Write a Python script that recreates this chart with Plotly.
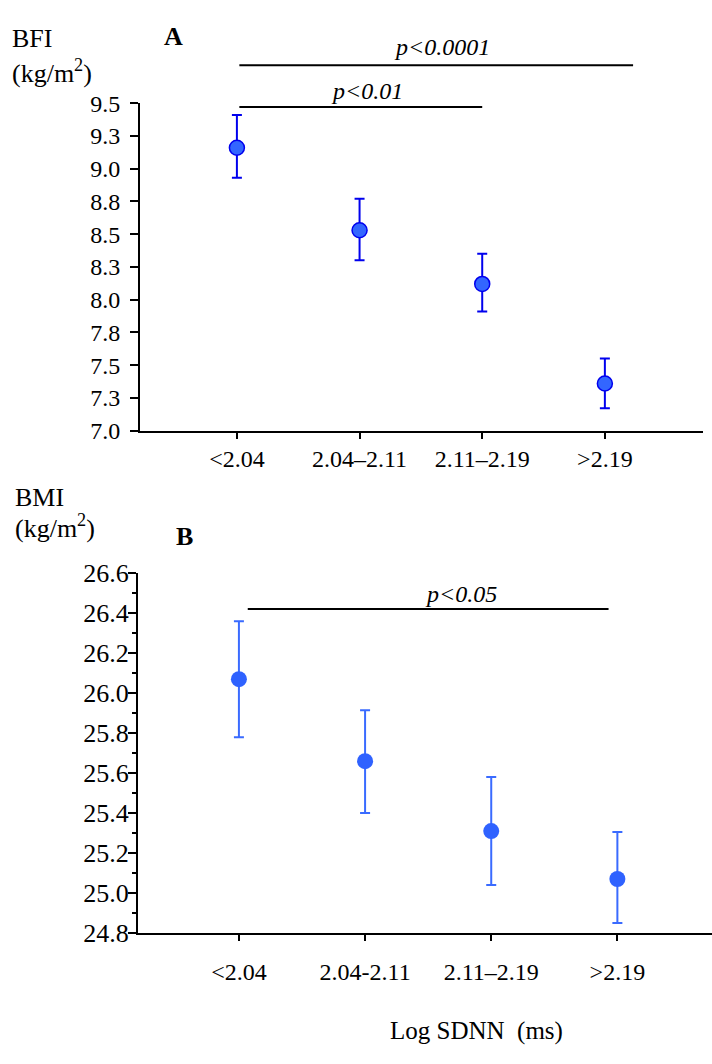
import plotly.graph_objects as go

# ---------------- data ----------------
cats_a = ["<2.04", "2.04–2.11", "2.11–2.19", ">2.19"]
bfi_mean = [9.16, 8.53, 8.12, 7.36]
bfi_upper = [9.41, 8.77, 8.35, 7.55]
bfi_lower = [8.93, 8.30, 7.91, 7.17]
bfi_ticks = [7.0, 7.25, 7.5, 7.75, 8.0, 8.25, 8.5, 8.75, 9.0, 9.25, 9.5]
bfi_ticktext = ["7.0", "7.3", "7.5", "7.8", "8.0", "8.3", "8.5", "8.8", "9.0", "9.3", "9.5"]

cats_b = ["<2.04", "2.04-2.11", "2.11–2.19", ">2.19"]
bmi_mean = [26.07, 25.66, 25.31, 25.07]
bmi_upper = [26.36, 25.915, 25.58, 25.305]
bmi_lower = [25.78, 25.40, 25.04, 24.85]
bmi_ticks = [24.8, 25.0, 25.2, 25.4, 25.6, 25.8, 26.0, 26.2, 26.4, 26.6]

# significance brackets: (from category, to category, label)
sig_a = [(0.02, 3.23, "p<0.0001"), (0.02, 2.0, "p<0.01")]
sig_b = [(0.07, 2.93, "p<0.05")]

FONT = "Liberation Serif, Times New Roman, serif"
W, H = 712, 1064


def esc(s):
    return s.replace("<", "&lt;").replace(">", "&gt;")


# panel geometry (pixels)
xa_rng = [-0.79, 3.8]
xb_rng = [-0.8, 3.75]
top_px = (91.7, 428.3)
bot_px = (575.0, 944.7)

xa_dom = [140 / W, 703 / W]
xb_dom = [138 / W, 1.0]
ya_dom = [1 - top_px[1] / H, 1 - top_px[0] / H]
yb_dom = [1 - bot_px[1] / H, 1 - bot_px[0] / H]

idx_a = list(range(len(cats_a)))
idx_b = list(range(len(cats_b)))

fig = go.Figure()

fig.add_trace(go.Scatter(
    x=idx_a, y=bfi_mean, mode="markers", xaxis="x", yaxis="y",
    marker=dict(size=15, color="#3366ff", line=dict(color="#0000ee", width=1.5)),
    error_y=dict(type="data", symmetric=False,
                 array=[u - m for u, m in zip(bfi_upper, bfi_mean)],
                 arrayminus=[m - l for m, l in zip(bfi_mean, bfi_lower)],
                 color="#0000ee", thickness=2, width=5),
    showlegend=False, cliponaxis=False, hoverinfo="skip",
))

fig.add_trace(go.Scatter(
    x=idx_b, y=bmi_mean, mode="markers", xaxis="x2", yaxis="y2",
    marker=dict(size=16, color="#2f62ff", line=dict(width=0)),
    error_y=dict(type="data", symmetric=False,
                 array=[u - m for u, m in zip(bmi_upper, bmi_mean)],
                 arrayminus=[m - l for m, l in zip(bmi_mean, bmi_lower)],
                 color="#3a6bff", thickness=2, width=5),
    showlegend=False, cliponaxis=False, hoverinfo="skip",
))

axis_common = dict(showline=True, linecolor="black", linewidth=2, showgrid=False,
                   zeroline=False, ticks="outside", tickcolor="black", tickwidth=2)

fig.update_layout(
    width=W, height=H, margin=dict(l=0, r=0, t=0, b=0),
    paper_bgcolor="white", plot_bgcolor="white",
    font=dict(family=FONT, color="black"),
    xaxis=dict(axis_common, domain=xa_dom, range=xa_rng, anchor="y",
               tickvals=idx_a, ticktext=[esc(c) for c in cats_a], ticklen=6,
               ticklabelstandoff=0,
               tickfont=dict(family=FONT, size=24, color="black")),
    yaxis=dict(axis_common, domain=ya_dom, range=[7.0, 9.5], anchor="x",
               tickvals=bfi_ticks, ticktext=bfi_ticktext, ticklen=8,
               ticklabelstandoff=5,
               tickfont=dict(family=FONT, size=24, color="black")),
    xaxis2=dict(axis_common, domain=xb_dom, range=xb_rng, anchor="y2",
                tickvals=idx_b, ticktext=[esc(c) for c in cats_b], ticklen=6,
                ticklabelstandoff=10,
                tickfont=dict(family=FONT, size=24, color="black")),
    yaxis2=dict(axis_common, domain=yb_dom, range=[24.8, 26.6], anchor="x2",
                tickvals=bmi_ticks, tickformat=".1f", ticklen=8,
                ticklabelstandoff=-6,
                tickfont=dict(family=FONT, size=26, color="black"),
                minor=dict(dtick=0.1, ticks="outside", ticklen=4, tickwidth=2,
                           tickcolor="black")),
)


def xfrac(v, rng):
    return (v - rng[0]) / (rng[1] - rng[0])


def yfrac(py, px):
    return (px[1] - py) / (px[1] - px[0])


shapes = []
annots = []
# panel A brackets: line y px, text y px
a_line_px = [52.7, 95.7]
a_text_px = [33.5, 79.5]
for (x0, x1, lab), ly, ty in zip(sig_a, a_line_px, a_text_px):
    shapes.append(dict(type="line", xref="x domain", yref="y domain",
                       x0=xfrac(x0, xa_rng), x1=xfrac(x1, xa_rng),
                       y0=yfrac(ly, top_px), y1=yfrac(ly, top_px),
                       line=dict(color="black", width=2)))
    annots.append(dict(xref="x", yref="paper", x=(x0 + x1) / 2 + 0.05, y=1 - ty / H,
                       text="<i>" + esc(lab) + "</i>", showarrow=False,
                       xanchor="center", yanchor="middle",
                       font=dict(family=FONT, size=24, color="black")))

b_line_px = [611.7]
b_text_px = [596.5]
for (x0, x1, lab), ly, ty in zip(sig_b, b_line_px, b_text_px):
    shapes.append(dict(type="line", xref="x2 domain", yref="y2 domain",
                       x0=xfrac(x0, xb_rng), x1=xfrac(x1, xb_rng),
                       y0=yfrac(ly, bot_px), y1=yfrac(ly, bot_px),
                       line=dict(color="black", width=2)))
    annots.append(dict(xref="x2", yref="paper", x=(x0 + x1) / 2 + 0.26, y=1 - ty / H,
                       text="<i>" + esc(lab) + "</i>", showarrow=False,
                       xanchor="center", yanchor="middle",
                       font=dict(family=FONT, size=24, color="black")))


def label(text, px_x, px_y, size=26, anchor="left"):
    annots.append(dict(xref="paper", yref="paper", x=px_x / W, y=1 - px_y / H,
                       text=text, showarrow=False, xanchor=anchor, yanchor="middle",
                       font=dict(family=FONT, size=size, color="black")))


label("BFI", 10, 25)
label("(kg/m<sup>2</sup>)", 10, 59)
label("<b>A</b>", 173, 23, anchor="center")
label("BMI", 13, 497)
label("(kg/m<sup>2</sup>)", 13, 527)
label("<b>B</b>", 184, 537, anchor="center")
label("Log SDNN\u00a0\u00a0(ms)", 476, 1045, size=25, anchor="center")

fig.update_layout(shapes=shapes, annotations=annots)

fig.write_html(
    "out.html",
    config={"displayModeBar": False, "staticPlot": True},
    post_script=(
        "document.body.style.margin='0';"
        "document.body.style.overflow='hidden';"
        "var d=document.getElementById('{plot_id}');"
        "d.style.position='fixed';d.style.top='0px';d.style.left='0px';"
    ),
)
